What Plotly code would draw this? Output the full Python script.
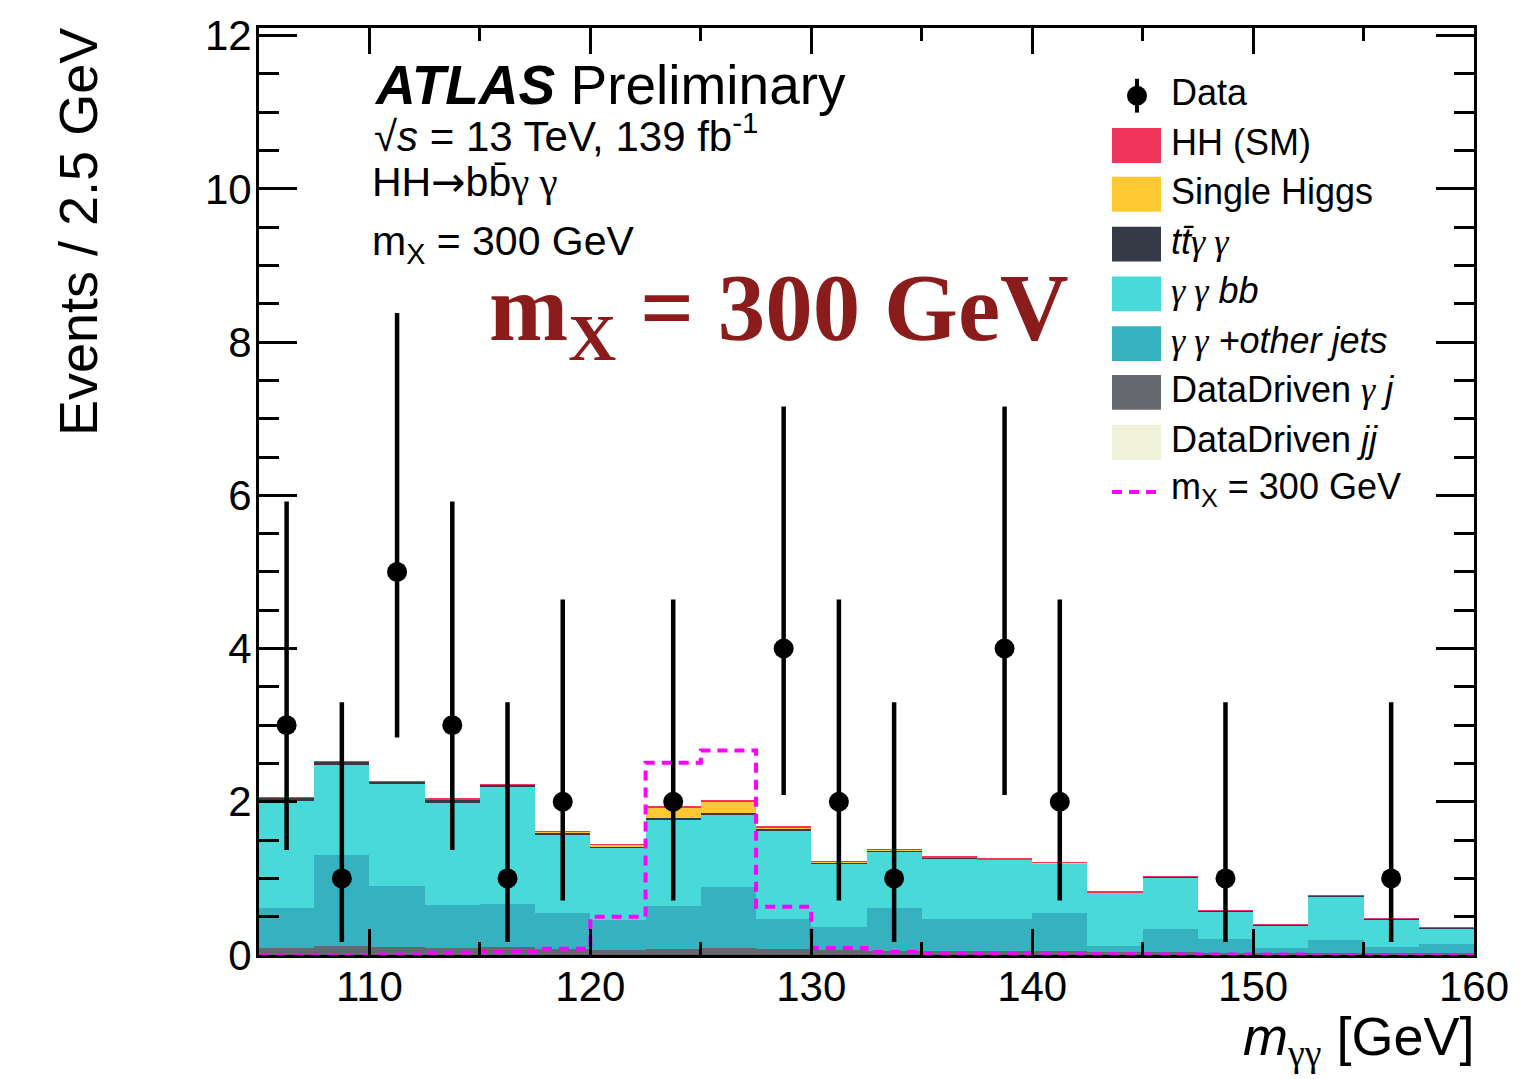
import plotly.graph_objects as go

# ---------------- data ----------------
bin_edges = [105.0, 107.5, 110.0, 112.5, 115.0, 117.5, 120.0, 122.5, 125.0, 127.5, 130.0,
             132.5, 135.0, 137.5, 140.0, 142.5, 145.0, 147.5, 150.0, 152.5, 155.0, 157.5, 160.0]
bin_centers = [106.25, 108.75, 111.25, 113.75, 116.25, 118.75, 121.25, 123.75, 126.25, 128.75, 131.25,
               133.75, 136.25, 138.75, 141.25, 143.75, 146.25, 148.75, 151.25, 153.75, 156.25, 158.75]
bin_width = 2.5

dd_jj = [0.0] * 22
dd_gj = [0.09, 0.12, 0.10, 0.09, 0.11, 0.08, 0.07, 0.08, 0.09, 0.08, 0.06,
         0.05, 0.05, 0.05, 0.05, 0.04, 0.04, 0.03, 0.03, 0.03, 0.03, 0.03]
gg_other = [0.52, 1.19, 0.80, 0.56, 0.56, 0.47, 0.39, 0.56, 0.80, 0.39, 0.30,
            0.56, 0.42, 0.42, 0.50, 0.08, 0.30, 0.18, 0.06, 0.17, 0.08, 0.12]
gg_bb = [1.40, 1.17, 1.34, 1.34, 1.53, 1.02, 0.94, 1.13, 0.94, 1.16, 0.83,
         0.74, 0.79, 0.77, 0.64, 0.69, 0.67, 0.36, 0.30, 0.57, 0.35, 0.20]
tt_gg = [0.04, 0.04, 0.02, 0.04, 0.02, 0.03, 0.02, 0.02, 0.02, 0.02, 0.02,
         0.02, 0.015, 0.01, 0.01, 0.01, 0.01, 0.01, 0.01, 0.01, 0.01, 0.01]
single_h = [0.003, 0.003, 0.004, 0.005, 0.005, 0.007, 0.02, 0.14, 0.16, 0.02, 0.006,
            0.004, 0.003, 0.003, 0.002, 0.002, 0.002, 0.002, 0.002, 0.002, 0.002, 0.002]
hh_sm = [0.002, 0.002, 0.002, 0.002, 0.003, 0.003, 0.004, 0.008, 0.008, 0.004, 0.003,
         0.002, 0.002, 0.001, 0.001, 0.001, 0.001, 0.001, 0.001, 0.001, 0.001, 0.001]
signal_mx300 = [0.0, 0.0, 0.005, 0.03, 0.04, 0.08, 0.50, 2.51, 2.67, 0.63, 0.09,
                0.04, 0.02, 0.015, 0.01, 0.01, 0.005, 0.005, 0.005, 0.0, 0.0, 0.0]

data_counts = [3, 1, 5, 3, 1, 2, 0, 2, 0, 4, 2, 1, 0, 4, 2, 0, 0, 1, 0, 0, 1, 0]
data_err_up = [2.92, 2.30, 3.38, 2.92, 2.30, 2.64, 0, 2.64, 0, 3.16, 2.64, 2.30, 0, 3.16, 2.64, 0, 0, 2.30, 0, 0, 2.30, 0]
data_err_dn = [1.63, 0.83, 2.16, 1.63, 0.83, 1.29, 0, 1.29, 0, 1.91, 1.29, 0.83, 0, 1.91, 1.29, 0, 0, 0.83, 0, 0, 0.83, 0]

y_ticks = [0, 2, 4, 6, 8, 10, 12]
x_ticks = [110, 120, 130, 140, 150, 160]

# ---------------- styling ----------------
SANS = "Liberation Sans, Arial, Helvetica, sans-serif"
SERIF = "Liberation Serif, Times New Roman, serif"
colors = {
    "HH (SM)": "#f0365a",
    "Single Higgs": "#fec832",
    "ttgg": "#363a47",
    "ggbb": "#4ad9d9",
    "ggother": "#36b1bf",
    "ddgj": "#666870",
    "ddjj": "#eff2d9",
}
L, R, T, B = 259, 1474, 24, 955


def px(x):
    return (x - L) / (R - L)


def py(y):
    return (B - y) / (B - T)


G = "<span style='font-family:Liberation Serif'>%s</span>"

fig = go.Figure()

stack = [
    ("DataDriven jj", dd_jj, colors["ddjj"]),
    ("DataDriven γj", dd_gj, colors["ddgj"]),
    ("γγ+other jets", gg_other, colors["ggother"]),
    ("γγbb", gg_bb, colors["ggbb"]),
    ("ttγγ", tt_gg, colors["ttgg"]),
    ("Single Higgs", single_h, colors["Single Higgs"]),
    ("HH (SM)", hh_sm, colors["HH (SM)"]),
]
for name, vals, col in stack:
    fig.add_trace(go.Bar(x=bin_centers, y=vals, width=bin_width,
                         name=name, marker=dict(color=col, line=dict(width=0)),
                         showlegend=False))

# signal step line
fig.add_trace(go.Scatter(x=bin_edges, y=signal_mx300 + [signal_mx300[-1]], mode="lines",
                         line=dict(color="#ff00ff", width=4, dash="10px,7px", shape="hv"),
                         name="mX = 300 GeV", showlegend=False))

# data
dx = [c for c, n in zip(bin_centers, data_counts) if n > 0]
dy = [n for n in data_counts if n > 0]
du = [u for u, n in zip(data_err_up, data_counts) if n > 0]
dd = [d for d, n in zip(data_err_dn, data_counts) if n > 0]
fig.add_trace(go.Scatter(x=dx, y=dy, mode="markers", name="Data",
                         marker=dict(color="black", size=20),
                         error_y=dict(type="data", array=du, arrayminus=dd, symmetric=False,
                                      color="black", thickness=4.5, width=0),
                         showlegend=False))

ann = []
shapes = []

# header texts
ann.append(dict(x=px(372), y=py(81), text="<b><i>ATLAS</i></b> Preliminary",
                font=dict(family=SANS, size=55, color="black")))
ann.append(dict(x=px(372), y=py(129), text="√<i>s</i> = 13 TeV, 139 fb<sup>-1</sup>",
                font=dict(family=SANS, size=42, color="black")))
ann.append(dict(x=px(370), y=py(179),
                text="HH<span style='font-family:DejaVu Sans'>→</span>bb\u0304" + (G % "γ γ"),
                font=dict(family=SANS, size=41, color="black")))
ann.append(dict(x=px(370), y=py(241), text="m<sub>X</sub> = 300 GeV",
                font=dict(family=SANS, size=41, color="black")))
ann.append(dict(x=px(487), y=py(312), text="<b>m<sub>X</sub> = 300 GeV</b>",
                font=dict(family=SERIF, size=95, color="#8b1c1c")))

# legend (manual)
row_y = [92, 142, 191, 241, 291, 341, 390, 440, 490]
legend_items = [
    ("Data", None),
    ("HH (SM)", colors["HH (SM)"]),
    ("Single Higgs", colors["Single Higgs"]),
    ("<i>tt\u0304" + (G % "γ γ") + "</i>", colors["ttgg"]),
    ("<i>" + (G % "γ γ") + " bb</i>", colors["ggbb"]),
    ("<i>" + (G % "γ γ") + " +other jets</i>", colors["ggother"]),
    ("DataDriven <i>" + (G % "γ") + " j</i>", colors["ddgj"]),
    ("DataDriven <i>jj</i>", colors["ddjj"]),
    ("m<sub>X</sub> = 300 GeV", None),
]
for i, (txt, col) in enumerate(legend_items):
    yc = row_y[i]
    ann.append(dict(x=px(1169), y=py(yc - 3), text=txt,
                    font=dict(family=SANS, size=36, color="black")))
    if col is not None:
        shapes.append(dict(type="rect", xref="paper", yref="paper",
                           x0=px(1112), x1=px(1161), y0=py(yc + 17.5), y1=py(yc - 17.5),
                           fillcolor=col, line=dict(width=0)))
# data marker in legend
shapes.append(dict(type="line", xref="paper", yref="paper", x0=px(1137), x1=px(1137),
                   y0=py(row_y[0] + 17), y1=py(row_y[0] - 17), line=dict(color="black", width=4)))
shapes.append(dict(type="circle", xref="paper", yref="paper", x0=px(1127), x1=px(1147),
                   y0=py(row_y[0] + 10), y1=py(row_y[0] - 10), fillcolor="black",
                   line=dict(color="black", width=0)))
# dashed legend line
shapes.append(dict(type="line", xref="paper", yref="paper", x0=px(1112), x1=px(1157),
                   y0=py(row_y[-1]), y1=py(row_y[-1]),
                   line=dict(color="#ff00ff", width=4, dash="10px,7px")))

# axis titles
ann.append(dict(x=px(78), y=py(22), text="Events / 2.5 GeV", textangle=-90,
                xanchor="center", yanchor="top",
                font=dict(family=SANS, size=54, color="black")))
ann.append(dict(x=px(1476), y=py(1040), text="<i>m</i><sub>" + (G % "γγ") + "</sub> [GeV]",
                xanchor="right", yanchor="middle",
                font=dict(family=SANS, size=54, color="black")))

for a in ann:
    a.setdefault("xref", "paper")
    a.setdefault("yref", "paper")
    a.setdefault("xanchor", "left")
    a.setdefault("yanchor", "middle")
    a.setdefault("showarrow", False)
    fig.add_annotation(**a)

fig.update_layout(
    width=1536, height=1079,
    margin=dict(l=L, r=1536 - R, t=T, b=1079 - B),
    paper_bgcolor="white", plot_bgcolor="white",
    barmode="stack", bargap=0,
    shapes=shapes,
    showlegend=False,
    font=dict(family=SANS, color="black"),
)
fig.update_xaxes(range=[105, 160], tickvals=x_ticks, ticks="inside", ticklen=26, tickwidth=3,
                 tickcolor="black", showline=True, linecolor="black", linewidth=3,
                 mirror="allticks", showgrid=False, zeroline=False,
                 tickfont=dict(family=SANS, size=42, color="black"), ticklabelstandoff=-7,
                 minor=dict(dtick=5, tick0=105, ticks="inside", ticklen=13, tickwidth=3,
                            tickcolor="black", showgrid=False))
fig.update_yaxes(range=[0, 12.1], tickvals=y_ticks, ticks="inside", ticklen=38, tickwidth=3,
                 tickcolor="black", showline=True, linecolor="black", linewidth=3,
                 mirror="allticks", showgrid=False, zeroline=False,
                 tickfont=dict(family=SANS, size=42, color="black"), ticklabelstandoff=-4,
                 minor=dict(dtick=0.5, tick0=0, ticks="inside", ticklen=20, tickwidth=3,
                            tickcolor="black", showgrid=False))

fig.write_html("out.html")
